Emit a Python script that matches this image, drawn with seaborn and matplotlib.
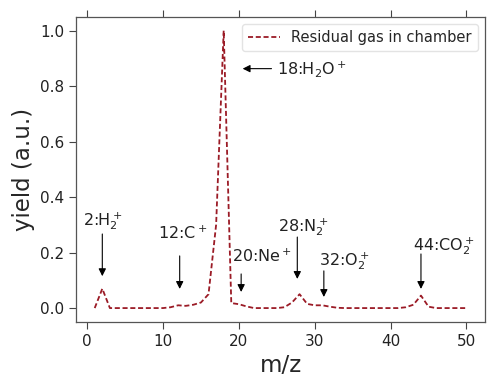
import numpy as np
import pandas as pd
import seaborn as sns
import matplotlib
matplotlib.use("Agg")
import matplotlib.pyplot as plt

# Mass spectrum of the residual gas, m/z 1..50
mz = list(range(1, 51))
yield_au = [
    0.000, 0.070, 0.000, 0.000, 0.000, 0.000, 0.000, 0.000, 0.000, 0.000,  # 1-10
    0.003, 0.010, 0.008, 0.012, 0.020, 0.050, 0.300, 1.000, 0.018, 0.014,  # 11-20
    0.006, 0.000, 0.000, 0.000, 0.000, 0.003, 0.020, 0.050, 0.015, 0.010,  # 21-30
    0.010, 0.005, 0.001, 0.000, 0.000, 0.000, 0.000, 0.000, 0.000, 0.000,  # 31-40
    0.000, 0.003, 0.012, 0.045, 0.005, 0.000, 0.000, 0.000, 0.000, 0.000,  # 41-50
]
series_name = "Residual gas in chamber"

# Peak labels: text, arrow tip (x, y), arrow tail y, text centre (x, y)
peak_labels = [r"2:H$_2^+$", r"12:C$^+$", r"20:Ne$^+$", r"28:N$_2^+$", r"32:O$_2^+$", r"44:CO$_2^+$"]
tip_x = [2.0, 12.2, 20.3, 27.7, 31.2, 44.0]
tip_y = [0.115, 0.069, 0.058, 0.105, 0.040, 0.069]
tail_y = [0.267, 0.188, 0.123, 0.256, 0.134, 0.195]
text_x = [2.0, 12.6, 23.1, 28.5, 33.9, 47.0]
text_y = [0.315, 0.268, 0.188, 0.292, 0.170, 0.224]

water_label = r"18:H$_2$O$^+$"

sns.set_style("ticks")
plt.rcParams["font.family"] = ["DejaVu Sans"]

df = pd.DataFrame({"m/z": mz, "yield": yield_au, "series": series_name})

fig = plt.figure(figsize=(4.88, 3.81), dpi=100)
ax = fig.add_axes([0.156, 0.155, 0.838, 0.801])

sns.lineplot(data=df, x="m/z", y="yield", hue="series",
             palette=["#9b1b26"], linewidth=1.3, ax=ax)
for ln in ax.get_lines():
    ln.set_dashes((2.8, 1.5))

for lab, tx, ty, ay, lx, ly in zip(peak_labels, tip_x, tip_y, tail_y, text_x, text_y):
    ax.annotate("", xy=(tx, ty), xytext=(tx, ay),
                arrowprops=dict(arrowstyle="-|>", color="black", lw=0.8,
                                mutation_scale=11, shrinkA=0, shrinkB=0))
    ax.text(lx, ly, lab, ha="center", va="center", fontsize=11.5, color="#222222")

ax.annotate("", xy=(20.5, 0.863), xytext=(24.3, 0.863),
            arrowprops=dict(arrowstyle="-|>", color="black", lw=0.8,
                            mutation_scale=11, shrinkA=0, shrinkB=0))
ax.text(25.0, 0.863, water_label, ha="left", va="center", fontsize=11.5, color="#222222")

ax.set_xlabel("m/z", fontsize=16.5)
ax.set_ylabel("yield (a.u.)", fontsize=16.5)
ax.set_xticks([0, 10, 20, 30, 40, 50])
ax.set_yticks([0.0, 0.2, 0.4, 0.6, 0.8, 1.0])
ax.set_yticklabels(["0.0", "0.2", "0.4", "0.6", "0.8", "1.0"])
ax.tick_params(axis="both", labelsize=11, direction="out", length=5, width=0.8,
               colors="#444444", labelcolor="#222222")
ax.tick_params(axis="x", top=True)
for s in ax.spines.values():
    s.set_visible(True)
    s.set_color("#555555")
    s.set_linewidth(0.9)

leg = ax.legend(loc="upper right", fontsize=10.5, frameon=True, handlelength=2.2)
leg.set_title(None)
for h in leg.get_lines():
    h.set_dashes((2.8, 1.5))
leg.get_frame().set_edgecolor("#dddddd")

fig.savefig("out.png", dpi=100)
